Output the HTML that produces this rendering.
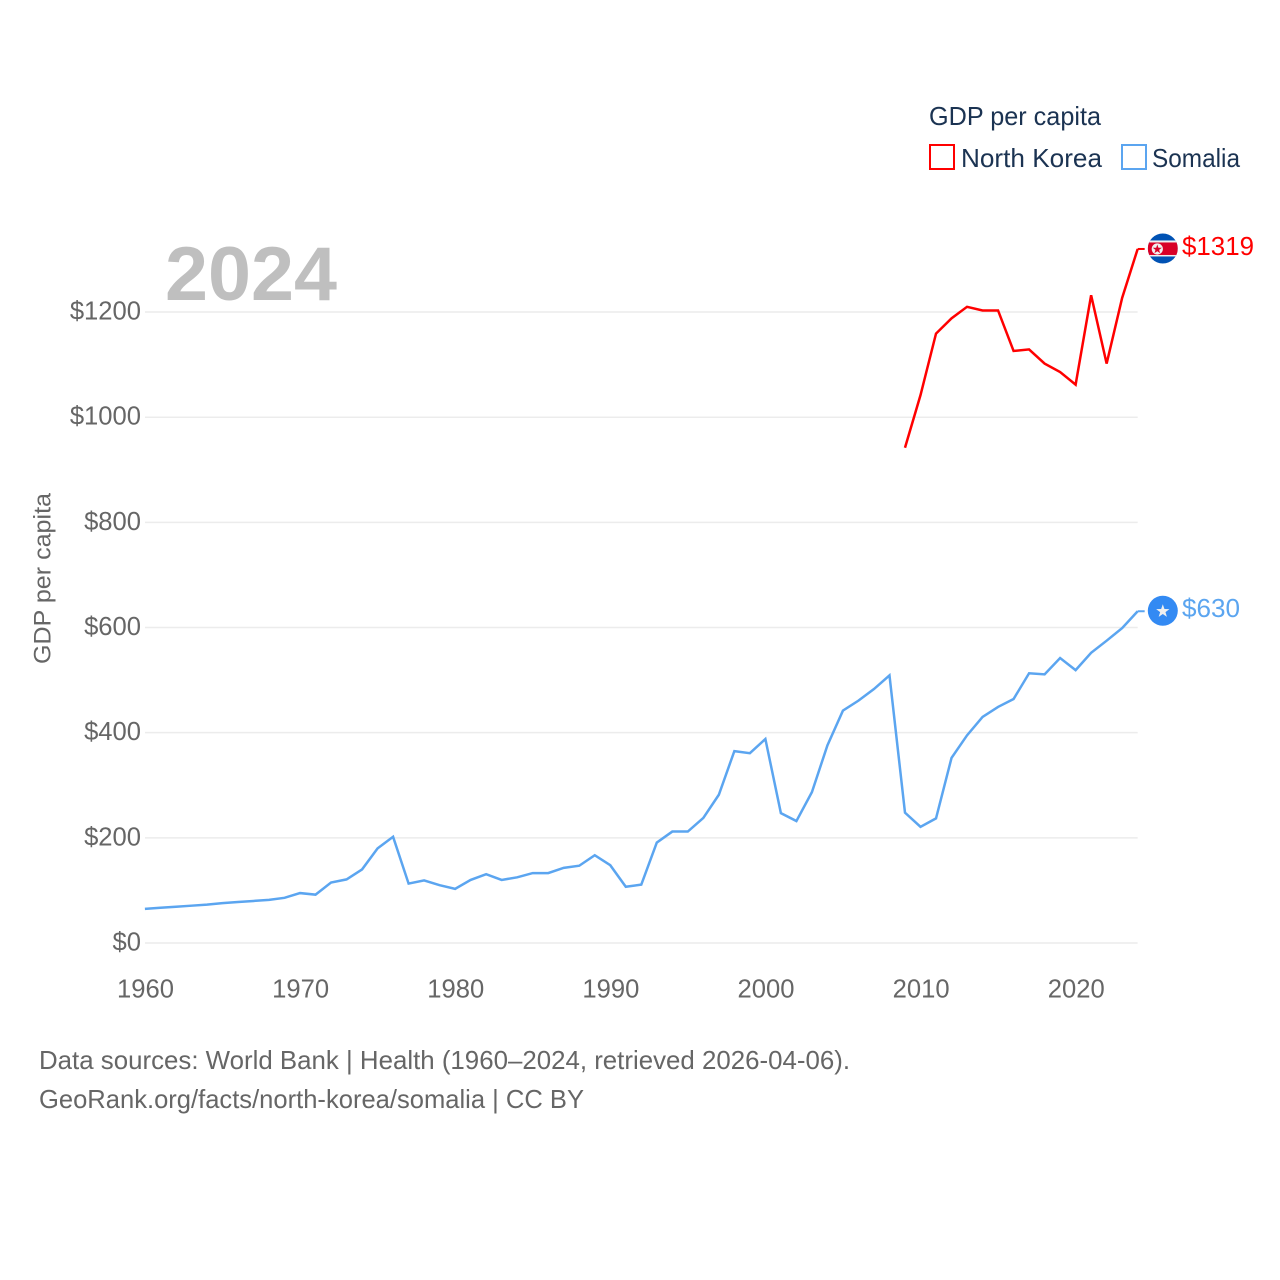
<!DOCTYPE html>
<html lang="en">
<head>
<meta charset="utf-8">
<title>GDP per capita: North Korea and Somalia</title>
<style>
html,body{margin:0;padding:0;background:#fff;}
svg{display:block;font-family:"Liberation Sans",sans-serif;}
.tick{font-size:25.6px;fill:#666;}
.legend{font-size:26px;fill:#1b3352;}
.foot{font-size:26px;fill:#666;}
</style>
</head>
<body>
<svg id="chart" xmlns="http://www.w3.org/2000/svg" width="1280" height="1280" viewBox="0 0 1280 1280">
  <rect x="0" y="0" width="1280" height="1280" fill="#ffffff"/>
  <g id="grid"></g>
  <g id="yticks"></g>
  <g id="xticks"></g>
  <text x="165" y="300" font-size="76" font-weight="700" fill="#bfbfbf" textLength="172" lengthAdjust="spacingAndGlyphs">2024</text>
  <text transform="translate(50.5,664) rotate(-90)" font-size="24.5" fill="#666" textLength="171" lengthAdjust="spacingAndGlyphs">GDP per capita</text>
  <g id="series"></g>

  <g id="flag-nk">
    <clipPath id="nkclip"><circle cx="0" cy="0" r="15"/></clipPath>
    <g clip-path="url(#nkclip)">
      <rect x="-15" y="-15" width="30" height="30" fill="#0052b4"/>
      <rect x="-15" y="-8" width="30" height="16" fill="#f0f0f0"/>
      <rect x="-15" y="-6" width="30" height="12.5" fill="#d80027"/>
    </g>
    <circle cx="-5.5" cy="0.5" r="5.6" fill="#f0f0f0"/>
    <polygon fill="#d80027" transform="translate(-5.5,0.8) scale(4.8)" points="0,-1 0.235,-0.324 0.951,-0.309 0.38,0.124 0.588,0.809 0,0.4 -0.588,0.809 -0.38,0.124 -0.951,-0.309 -0.235,-0.324"/>
  </g>
  <g id="flag-so">
    <circle cx="0" cy="0" r="15" fill="#338af3"/>
    <polygon fill="#f0f0f0" transform="translate(0,0.5) scale(7)" points="0,-1 0.235,-0.324 0.951,-0.309 0.38,0.124 0.588,0.809 0,0.4 -0.588,0.809 -0.38,0.124 -0.951,-0.309 -0.235,-0.324"/>
  </g>
  <text id="label-nk" x="1182" font-size="26" fill="#ff0000" textLength="72" lengthAdjust="spacingAndGlyphs"></text>
  <text id="label-so" x="1182" font-size="26" fill="#5ba5f0" textLength="58" lengthAdjust="spacingAndGlyphs"></text>

  <g>
    <text class="legend" x="929" y="125" textLength="172" lengthAdjust="spacingAndGlyphs">GDP per capita</text>
    <rect x="930" y="145" width="24" height="24" fill="#fff" stroke="#ff0000" stroke-width="2"/>
    <text class="legend" x="961" y="167" textLength="141" lengthAdjust="spacingAndGlyphs">North Korea</text>
    <rect x="1122" y="145" width="24" height="24" fill="#fff" stroke="#5ba5f0" stroke-width="2"/>
    <text class="legend" x="1152" y="167" textLength="88" lengthAdjust="spacingAndGlyphs">Somalia</text>
  </g>

  <text class="foot" x="39" y="1069" textLength="811" lengthAdjust="spacingAndGlyphs">Data sources: World Bank | Health (1960–2024, retrieved 2026-04-06).</text>
  <text class="foot" x="39" y="1108" textLength="545" lengthAdjust="spacingAndGlyphs">GeoRank.org/facts/north-korea/somalia | CC BY</text>
</svg>
<script>
var xTickYears = [1960, 1970, 1980, 1990, 2000, 2010, 2020];
var yTickValues = [0, 200, 400, 600, 800, 1000, 1200];
var somaliaStartYear = 1960;
var somaliaValues = [64, 66, 68, 70, 72, 75, 77, 79, 81, 85, 94, 91, 114, 120, 139, 179, 201, 112, 118, 109, 102, 119, 130, 119, 124, 132, 132, 142, 146, 166, 147, 106, 110, 190, 211, 211, 237, 281, 364, 360, 387, 246, 231, 286, 375, 441, 460, 482, 508, 247, 220, 236, 351, 394, 429, 448, 463, 512, 510, 541, 518, 551, 574, 598, 630];
var northKoreaStartYear = 2009;
var northKoreaValues = [941, 1041, 1158, 1187, 1209, 1202, 1202, 1125, 1128, 1101, 1085, 1061, 1231, 1101, 1226, 1319];

var NS = 'http://www.w3.org/2000/svg';
function xScale(year) { return 144.9 + (year - 1960) * 15.512; }
function yScale(value) { return 942.5 - value * 0.5258; }

var grid = document.getElementById('grid');
var yticks = document.getElementById('yticks');
var xticks = document.getElementById('xticks');
var series = document.getElementById('series');

yTickValues.forEach(function (v) {
  var line = document.createElementNS(NS, 'line');
  
  
  line.setAttribute('x1', 145);
  line.setAttribute('x2', xScale(2024));
  line.setAttribute('y1', yScale(v) + 0.5);
  line.setAttribute('y2', yScale(v) + 0.5);
  line.setAttribute('stroke', '#ececec');
  line.setAttribute('stroke-width', '1.5');
  grid.appendChild(line);

  var t = document.createElementNS(NS, 'text');
  
  
  t.setAttribute('class', 'tick');
  t.setAttribute('x', 141);
  t.setAttribute('y', yScale(v) + 8);
  t.setAttribute('text-anchor', 'end');
  t.textContent = '$' + v;
  yticks.appendChild(t);
});

xTickYears.forEach(function (y) {
  var t = document.createElementNS(NS, 'text');
  
  
  t.setAttribute('class', 'tick');
  t.setAttribute('x', xScale(y) + 0.6);
  t.setAttribute('y', 997.5);
  t.setAttribute('text-anchor', 'middle');
  t.textContent = y;
  xticks.appendChild(t);
});

function pathFor(startYear, values) {
  return values.map(function (v, i) {
    return (i ? 'L' : 'M') + xScale(startYear + i).toFixed(2) + ' ' + yScale(v).toFixed(2);
  }).join(' ');
}

function drawSeries(name, startYear, values, color, flagId, labelId) {
  var last = values[values.length - 1];
  var p = document.createElementNS(NS, 'path');
  
  
  p.setAttribute('d', pathFor(startYear, values));
  p.setAttribute('fill', 'none');
  p.setAttribute('stroke', color);
  p.setAttribute('stroke-width', '2.5');
  p.setAttribute('stroke-linejoin', 'miter');
  series.appendChild(p);

  var c = document.createElementNS(NS, 'line');
  
  
  c.setAttribute('x1', xScale(2024));
  c.setAttribute('x2', xScale(2024) + 7);
  c.setAttribute('y1', yScale(last));
  c.setAttribute('y2', yScale(last));
  c.setAttribute('stroke', color);
  c.setAttribute('stroke-width', '2');
  series.appendChild(c);

  document.getElementById(flagId).setAttribute('transform', 'translate(1162.8,' + (yScale(last) - 0.5) + ')');
  var label = document.getElementById(labelId);
  label.setAttribute('y', yScale(last) + 6);
  label.textContent = '$' + last;
}

drawSeries('somalia', somaliaStartYear, somaliaValues, '#5ba5f0', 'flag-so', 'label-so');
drawSeries('north-korea', northKoreaStartYear, northKoreaValues, '#ff0000', 'flag-nk', 'label-nk');
</script>
</body>
</html>
